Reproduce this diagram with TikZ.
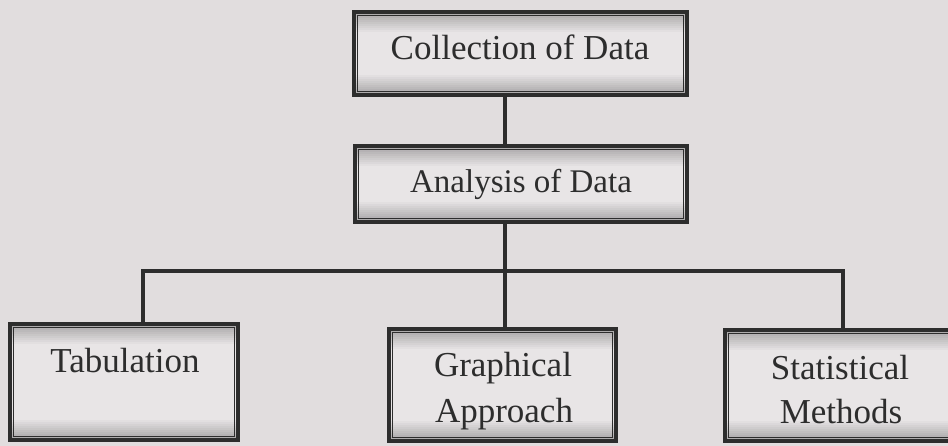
\documentclass[tikz,border=0pt]{standalone}
\usepackage{fontspec}
\setmainfont{Liberation Serif}
\definecolor{bgc}{RGB}{225,221,222}
\definecolor{boxfill}{RGB}{232,229,230}
\definecolor{shadec}{RGB}{168,166,167}
\definecolor{linec}{RGB}{45,45,45}
\tikzset{
  box/.style={draw=linec, line width=4pt, fill=boxfill, inner sep=0pt,
    path picture={
      \foreach \i [evaluate=\i as \p using {int(100-10*\i)}] in {0,...,9}{
        \fill[shadec!\p!boxfill]
          ([yshift=-2*\i pt]path picture bounding box.north west) rectangle
          ([yshift=-2*\i pt-2.3pt]path picture bounding box.north east);
        \fill[shadec!\p!boxfill]
          ([yshift=2*\i pt]path picture bounding box.south west) rectangle
          ([yshift=2*\i pt+2.3pt]path picture bounding box.south east);
      }
      \draw[line width=1.3pt, draw=linec]
        ([shift={(3.6pt,-3.6pt)}]path picture bounding box.north west) rectangle
        ([shift={(-3.6pt,3.6pt)}]path picture bounding box.south east);
    }},
  boxtext/.style={anchor=base, inner sep=0pt, text=linec, font=\fontsize{35pt}{45pt}\selectfont},
  conn/.style={draw=linec, line width=4.5pt, line join=miter}
}
\begin{document}
\begin{tikzpicture}[x=1pt, y=-1pt]
\useasboundingbox (0,0) rectangle (948,446);
\fill[bgc] (0,0) rectangle (948,446);
\clip (0,0) rectangle (948,446);

% junction coordinates
\coordinate (jc) at (505,271);
\coordinate (jl) at (143,271);
\coordinate (jr) at (843,271);

% boxes
\node[box, minimum width=333pt, minimum height=83pt] (coll) at (520.5,53.5) {};
\node[box, minimum width=332pt, minimum height=76pt] (ana) at (521,184) {};
\node[box, minimum width=228pt, minimum height=116pt] (tab) at (124,382) {};
\node[box, minimum width=227pt, minimum height=112pt] (gra) at (502.5,385) {};
\node[box, minimum width=230pt, minimum height=111pt] (sta) at (840,385.5) {};

% connectors
\draw[conn] (coll.south -| jc) -- (ana.north -| jc);
\draw[conn] (ana.south -| jc) -- (gra.north -| jc);
\draw[conn] (tab.north -| jl) -- (jl) -- (jr) -- (sta.north -| jr);

% texts
\node[boxtext] (colltxt) at (520,60) {Collection of Data};
\node[boxtext, font=\fontsize{33pt}{40pt}\selectfont] (anatxt) at (521,193) {Analysis of Data};
\node[boxtext] (tabtxt) at (125,372) {Tabulation};
\node[boxtext] (gratxt1) at (503,377) {Graphical};
\node[boxtext] (gratxt2) at (504,422) {Approach};
\node[boxtext] (statxt1) at (840,380) {Statistical};
\node[boxtext] (statxt2) at (841,423) {Methods};
\end{tikzpicture}
\end{document}
